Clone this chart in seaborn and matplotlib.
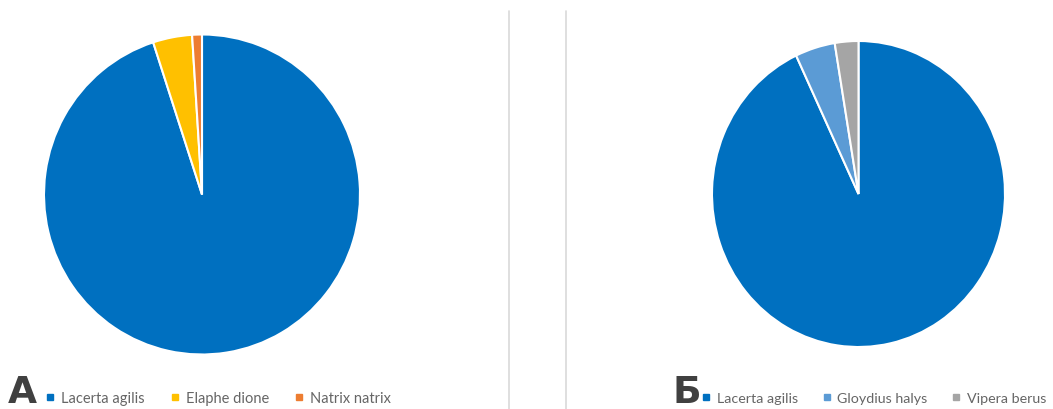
import matplotlib
matplotlib.use("Agg")
import matplotlib.pyplot as plt
import seaborn as sns
from matplotlib.lines import Line2D

# Data
labels_a = ["Lacerta agilis", "Elaphe dione", "Natrix natrix"]
values_a = [95.0, 4.0, 1.0]
colors_a = ["#0070C0", "#FFC000", "#ED7D31"]

labels_b = ["Lacerta agilis", "Gloydius halys", "Vipera berus"]
values_b = [93.0, 4.4, 2.6]
colors_b = ["#0070C0", "#5B9BD5", "#A5A5A5"]

panel_letters = ["А", "Б"]

sns.set_theme(style="white")
plt.rcParams['font.family'] = ['Lato', 'DejaVu Sans']

W, H = 1053, 410
fig = plt.figure(figsize=(W / 100, H / 100), dpi=100)
fig.patch.set_facecolor("white")

def add_pie(cx, cy, rx, ry, values, colors):
    ax = fig.add_axes([(cx - rx) / W, (H - cy - ry) / H, 2 * rx / W, 2 * ry / H])
    ax.pie(values, colors=colors, startangle=90, counterclock=False,
           wedgeprops=dict(edgecolor="white", linewidth=1.5))
    ax.set_aspect("auto")
    ax.set_xlim(-1, 1)
    ax.set_ylim(-1, 1)
    ax.axis("off")
    return ax

add_pie(202, 195.5, 158, 160, values_a, colors_a)
add_pie(858.5, 195, 146.5, 153, values_b, colors_b)

# divider lines
for x in (509, 566):
    fig.add_artist(Line2D([x / W, x / W], [0, (H - 12) / H], color="#d9d9d9", lw=1.2))

def add_legend(x_letter, x_leg, labels, colors, letter, colspace, fs):
    fig.text(x_letter / W, (H - 403) / H, letter, fontsize=27, fontweight="bold",
             color="#404040", ha="left", va="baseline", family=['DejaVu Sans'])
    handles = [Line2D([], [], marker="s", linestyle="none", markersize=5,
                      markerfacecolor=c, markeredgecolor=c) for c in colors]
    fig.legend(handles, labels, loc="center left",
               bbox_to_anchor=(x_leg / W, (H - 399) / H), ncol=3, frameon=False,
               fontsize=fs, labelcolor="#666666", handlelength=0.6,
               handletextpad=0.45, columnspacing=colspace, borderpad=0, borderaxespad=0)

add_legend(8, 46, labels_a, colors_a, panel_letters[0], 1.75, 10.5)
add_legend(672, 702, labels_b, colors_b, panel_letters[1], 1.7, 10.3)

fig.savefig("out.png", dpi=100, facecolor="white")
